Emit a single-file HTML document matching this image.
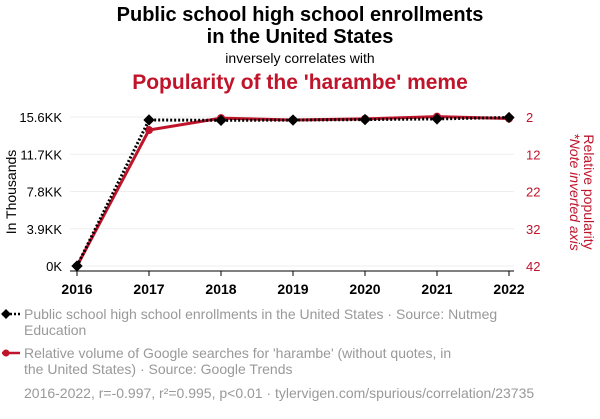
<!DOCTYPE html>
<html><head><meta charset="utf-8"><style>
body{margin:0;background:#fff;width:600px;height:414px;overflow:hidden;font-family:"Liberation Sans",sans-serif;}
</style></head><body>
<svg width="600" height="414" xmlns="http://www.w3.org/2000/svg" font-family="Liberation Sans, sans-serif">
<text x="300" y="21" text-anchor="middle" font-size="20" font-weight="bold" fill="#000">Public school high school enrollments</text>
<text x="300" y="43" text-anchor="middle" font-size="20" font-weight="bold" fill="#000">in the United States</text>
<text x="300" y="63" text-anchor="middle" font-size="14" fill="#000">inversely correlates with</text>
<text x="300" y="89" text-anchor="middle" font-size="21" font-weight="bold" fill="#c0142b">Popularity of the 'harambe' meme</text>
<g id="grid"></g>
<g id="axes"></g>
<g id="series"></g>
<text transform="translate(16,192) rotate(-90)" text-anchor="middle" font-size="14" fill="#000">In Thousands</text>
<text transform="translate(584,192) rotate(90)" text-anchor="middle" font-size="14" fill="#c0142b">Relative popularity</text>
<text transform="translate(570,192) rotate(90)" text-anchor="middle" font-size="14" font-style="italic" fill="#c0142b">*Note inverted axis</text>
<g>
<line x1="2" y1="314" x2="20" y2="314" stroke="#000" stroke-width="2.5" stroke-dasharray="2,2"/>
<rect x="2.5" y="310.5" width="7" height="7" transform="rotate(45 6 314)" fill="#000"/>
<text x="24" y="319" font-size="14" fill="#999">Public school high school enrollments in the United States · Source: Nutmeg</text>
<text x="24" y="335" font-size="14" fill="#999">Education</text>
</g>
<g>
<line x1="2" y1="353" x2="20" y2="353" stroke="#c0142b" stroke-width="2.5"/>
<circle cx="6" cy="353" r="3.5" fill="#c0142b"/>
<text x="24" y="358" font-size="14" fill="#999">Relative volume of Google searches for 'harambe' (without quotes, in</text>
<text x="24" y="374" font-size="14" fill="#999">the United States) · Source: Google Trends</text>
</g>
<text x="24" y="398" font-size="14" fill="#999">2016-2022, r=-0.997, r²=0.995, p&lt;0.01 · tylervigen.com/spurious/correlation/23735</text>
</svg>
<script>
const years=[2016,2017,2018,2019,2020,2021,2022];
const enrollments=[0,15.29,15.25,15.28,15.33,15.4,15.55];
const harambe=[42,5.5,2.3,2.8,2.5,1.9,2.4];
const leftTicks=["0K","3.9KK","7.8KK","11.7KK","15.6KK"];
const leftTickVals=[0,3.9,7.8,11.7,15.6];
const rightTickVals=[2,12,22,32,42];
const NS="http://www.w3.org/2000/svg";
const X0=77,X1=509,YT=117,YB=266;
const xS=y=>X0+(y-2016)*(X1-X0)/6;
const yL=v=>YB-(v/15.6)*(YB-YT);
const yR=v=>YT+(v-2)/40*(YB-YT);
function mk(t,a,p){const e=document.createElementNS(NS,t);for(const k in a)e.setAttribute(k,a[k]);p.appendChild(e);return e;}
const grid=document.getElementById('grid'),axes=document.getElementById('axes'),ser=document.getElementById('series');
leftTickVals.forEach((v,i)=>{
 const g=mk('line',{x1:70,x2:514,y1:yL(v),y2:yL(v),stroke:'#eee','stroke-width':1},grid);
 
 
 const t=mk('text',{x:62,y:yL(v)+5,'text-anchor':'end','font-size':13,fill:'#000'},axes);
 t.textContent=leftTicks[i];
 
 
});
rightTickVals.forEach(v=>{
 const t=mk('text',{x:526,y:yR(v)+5,'font-size':13,fill:'#c0142b'},axes);
 t.textContent=v;
 
 
});
const ax=mk('line',{x1:70,x2:514,y1:271,y2:271,stroke:'#000','stroke-width':1},axes);


years.forEach(y=>{
 mk('line',{x1:xS(y),x2:xS(y),y1:271,y2:276,stroke:'#000'},axes);
 const t=mk('text',{x:xS(y),y:294,'text-anchor':'middle','font-size':14,'font-weight':'bold',fill:'#000'},axes);
 t.textContent=y;
 
 
});
const rp=mk('polyline',{points:years.map((y,i)=>xS(y)+','+yR(harambe[i])).join(' '),fill:'none',stroke:'#c0142b','stroke-width':3},ser);


years.forEach((y,i)=>{
 const c=mk('circle',{cx:xS(y),cy:yR(harambe[i]),r:4,fill:'#c0142b'},ser);
 
 
});
const bp=mk('polyline',{points:years.map((y,i)=>xS(y)+','+yL(enrollments[i])).join(' '),fill:'none',stroke:'#000','stroke-width':3,'stroke-dasharray':'2,2'},ser);


years.forEach((y,i)=>{
 const cx=xS(y),cy=yL(enrollments[i]);
 const d=mk('rect',{x:cx-4,y:cy-4,width:8,height:8,fill:'#000',transform:`rotate(45 ${cx} ${cy})`},ser);
 
 
});
</script>
</body></html>
